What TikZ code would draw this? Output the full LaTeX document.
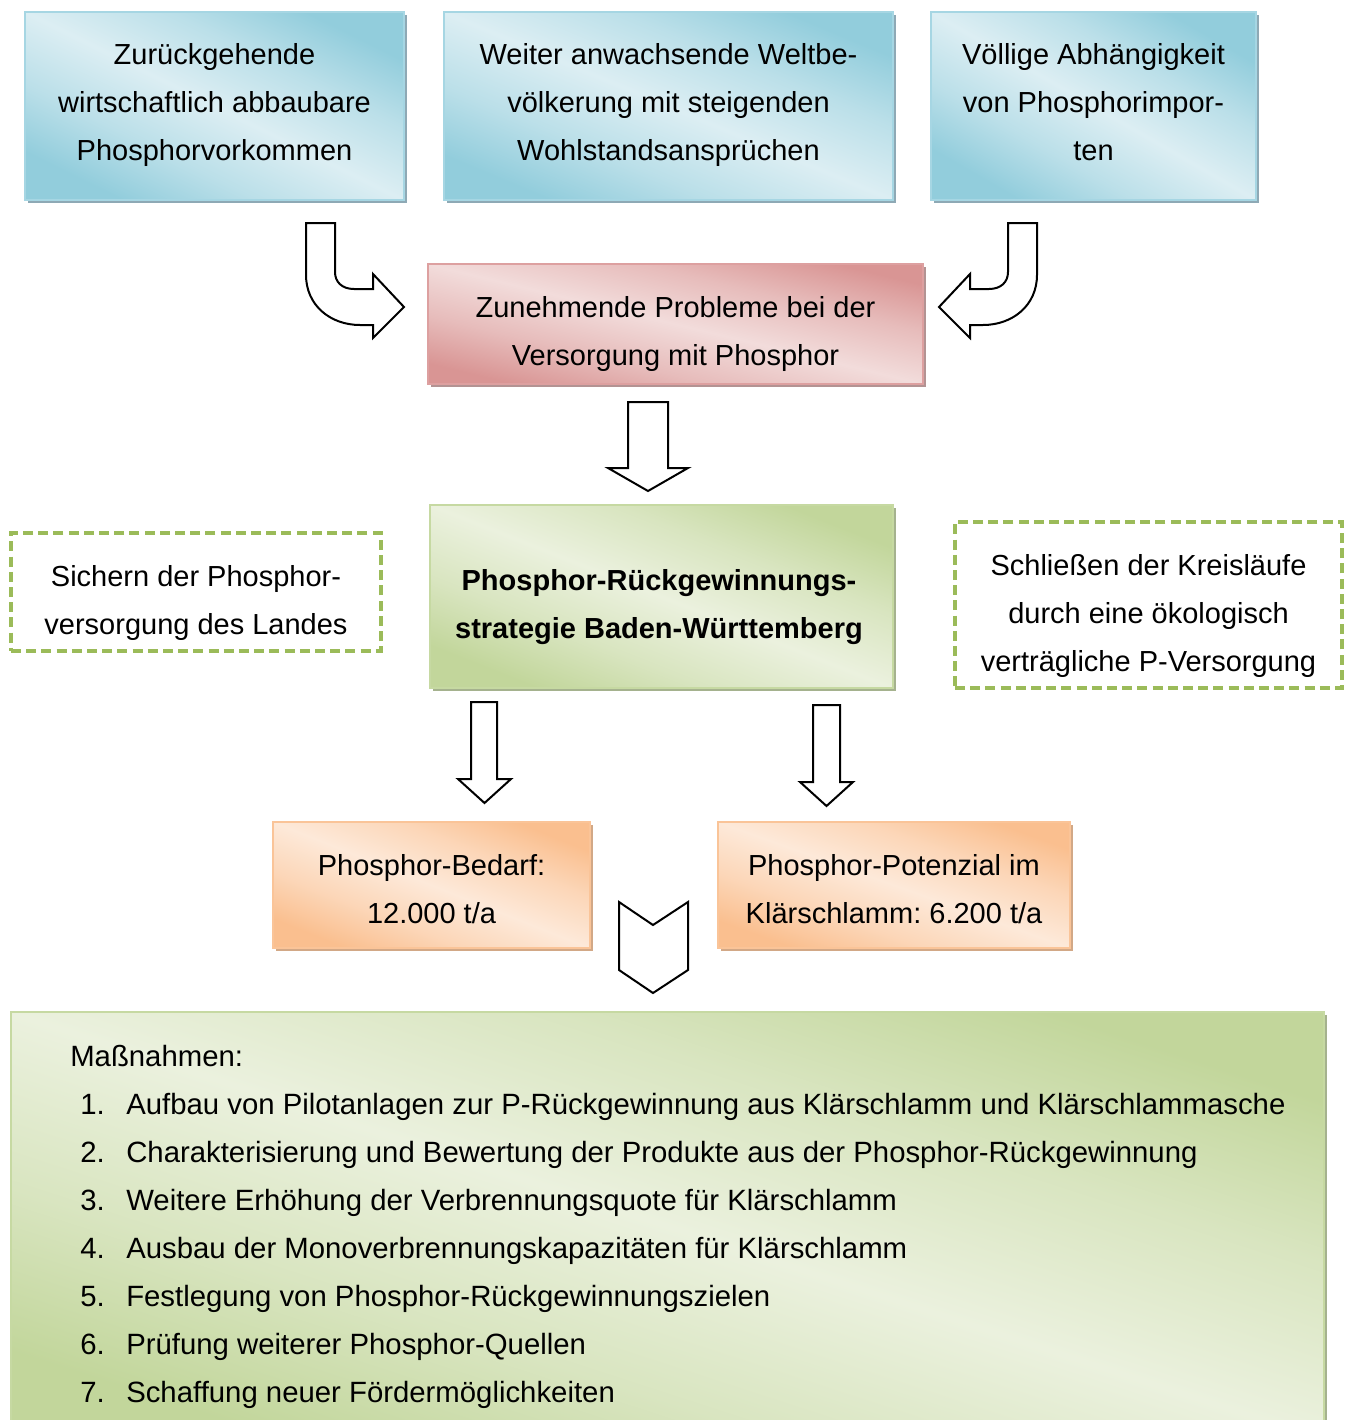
\documentclass[tikz,border=0pt]{standalone}
\usepackage{fontspec}
\setmainfont{Liberation Sans}
\usetikzlibrary{shadows}
\frenchspacing
\definecolor{bluD}{HTML}{92CDDC}
\definecolor{bluL}{HTML}{DCEEF3}
\definecolor{bluS}{HTML}{8EA9B5}
\definecolor{bluE}{HTML}{A6D6E3}
\definecolor{redD}{HTML}{D99594}
\definecolor{redL}{HTML}{F2DCDB}
\definecolor{redS}{HTML}{B39393}
\definecolor{redE}{HTML}{DDA0A0}
\definecolor{grnD}{HTML}{C2D69B}
\definecolor{grnL}{HTML}{EBF1DE}
\definecolor{grnS}{HTML}{A5B28E}
\definecolor{grnE}{HTML}{C6D9A2}
\definecolor{grnB}{HTML}{9BBB59}
\definecolor{orgD}{HTML}{FABF8F}
\definecolor{orgL}{HTML}{FDE9D9}
\definecolor{orgS}{HTML}{D2A886}
\definecolor{orgE}{HTML}{FAC498}
\colorlet{bluM}{bluL!55!bluD}
\colorlet{redM}{redL!55!redD}
\colorlet{grnM}{grnL!55!grnD}
\colorlet{orgM}{orgL!55!orgD}
\pgfdeclarehorizontalshading{shBlue}{100bp}{color(0bp)=(bluD); color(25bp)=(bluD); color(37bp)=(bluM); color(50bp)=(bluL); color(63bp)=(bluM); color(75bp)=(bluD); color(100bp)=(bluD)}
\pgfdeclarehorizontalshading{shRed}{100bp}{color(0bp)=(redD); color(25bp)=(redD); color(37bp)=(redM); color(50bp)=(redL); color(63bp)=(redM); color(75bp)=(redD); color(100bp)=(redD)}
\pgfdeclarehorizontalshading{shGreen}{100bp}{color(0bp)=(grnD); color(25bp)=(grnD); color(37bp)=(grnM); color(50bp)=(grnL); color(63bp)=(grnM); color(75bp)=(grnD); color(100bp)=(grnD)}
\pgfdeclarehorizontalshading{shOrange}{100bp}{color(0bp)=(orgD); color(25bp)=(orgD); color(37bp)=(orgM); color(50bp)=(orgL); color(63bp)=(orgM); color(75bp)=(orgD); color(100bp)=(orgD)}
\newlength\pxl
\setlength\pxl{0.75pt}
\tikzset{
  bx/.style n args={3}{shade, shading=#1, draw=#2, line width=1pt,
     general shadow={fill=#3, shadow xshift=2.6pt, shadow yshift=-2.6pt},
     inner sep=0pt, outer sep=0pt},
  sz/.style 2 args={minimum width={#1*0.75pt}, minimum height={#2*0.75pt}},
  txt/.style={font=\fontsize{21.75pt}{36pt}\selectfont, align=center, inner sep=0pt},
  dbox/.style={draw=grnB, line width=2.4pt, dash pattern=on 7.5pt off 3.9pt, inner sep=0pt},
  blk/.style={draw=black, line width=1.5pt, fill=white, line join=miter},
}
\begin{document}
\begin{tikzpicture}[x=0.75pt,y=-0.75pt]
\useasboundingbox (0,0) rectangle (1349,1420);
\clip (0,0) rectangle (1349,1420);
\fill[white] (0,0) rectangle (1349,1420);

% top blue boxes
\node[bx={shBlue}{bluE}{bluS}, shading angle=63.6, sz={379}{188}] (b1) at (214.5,106) {};
\node[txt] (t1) at (214.5,105) {Zurückgehende\\wirtschaftlich abbaubare\\Phosphorvorkommen};
\node[bx={shBlue}{bluE}{bluS}, shading angle=67.3, sz={449}{188}] (b2) at (668.5,106) {};
\node[txt] (t2) at (668.5,105) {Weiter anwachsende Weltbe-\\völkerung mit steigenden\\Wohlstandsansprüchen};
\node[bx={shBlue}{bluE}{bluS}, shading angle=60, sz={325}{188}] (b3) at (1093.5,106) {};
\node[txt] (t3) at (1093.5,102) {Völlige Abhängigkeit\\von Phosphorimpor-\\ten};

% red box
\node[bx={shRed}{redE}{redS}, shading angle=76.4, sz={495}{120}] (r1) at (675.5,324) {};
\node[txt] (tr) at (675.5,334) {Zunehmende Probleme bei der\\Versorgung mit Phosphor};

% curved arrows
\draw[blk] (306,223) -- (335,223) -- (335,272) .. controls (335,282) and (342,289) .. (354,289) -- (373,289) -- (373,274) -- (404,307) -- (373,338) -- (373,325) -- (360,325) .. controls (330,325) and (306,305) .. (306,275) -- cycle;
\draw[blk] (1037,223) -- (1008,223) -- (1008,272) .. controls (1008,282) and (1001,289) .. (989,289) -- (970,289) -- (970,274) -- (939,307) -- (970,338) -- (970,325) -- (983,325) .. controls (1013,325) and (1037,305) .. (1037,275) -- cycle;

% down arrow
\draw[blk] (628,402) -- (668,402) -- (668,468) -- (688,468) -- (648,491) -- (608,468) -- (628,468) -- cycle;

% green main box
\node[bx={shGreen}{grnE}{grnS}, shading angle=68.4, sz={463}{183}] (g1) at (661.5,596.5) {};
\node[txt, font=\fontsize{21.75pt}{36pt}\selectfont\bfseries] (tg) at (659,607) {Phosphor-Rückgewinnungs-\\strategie Baden-Württemberg};

% dashed boxes
\node[dbox, sz={370}{118}] (d1) at (196,592) {};
\node[txt] (td1) at (196,603) {Sichern der Phosphor-\\versorgung des Landes};
\node[dbox, sz={387}{166}] (d2) at (1148.5,605) {};
\node[txt] (td2) at (1148.5,616) {Schließen der Kreisläufe\\durch eine ökologisch\\verträgliche P-Versorgung};

% down arrows 2 and 3
\draw[blk] (471,702) -- (497,702) -- (497,779) -- (511,779) -- (484.5,803) -- (458,779) -- (471,779) -- cycle;
\draw[blk] (813,705) -- (840,705) -- (840,782) -- (853,782) -- (826.5,806) -- (800,782) -- (813,782) -- cycle;

% orange boxes
\node[bx={shOrange}{orgE}{orgS}, shading angle=68.3, sz={317}{126}] (o1) at (431.5,885) {};
\node[txt] (to1) at (431.5,889) {Phosphor-Bedarf:\\12.000 t/a};
\node[bx={shOrange}{orgE}{orgS}, shading angle=70.3, sz={352}{126}] (o2) at (894,885) {};
\node[txt] (to2) at (894,889) {Phosphor-Potenzial im\\Klärschlamm: 6.200 t/a};

% chevron
\draw[blk] (619,902) -- (653,925) -- (688,902) -- (688,970) -- (653,993) -- (619,970) -- cycle;

% bottom box
\node[bx={shGreen}{grnE}{grnS}, shading angle=72, sz={1313}{428}] (g2) at (667.5,1226) {};
\node[txt, font=\fontsize{22pt}{36pt}\selectfont, align=left, anchor=north west] (list) at (70,1045) {Maßnahmen:\\
\hspace*{10\pxl}\makebox[46\pxl][l]{1.}Aufbau von Pilotanlagen zur P-Rückgewinnung aus Klärschlamm und Klärschlammasche\\
\hspace*{10\pxl}\makebox[46\pxl][l]{2.}Charakterisierung und Bewertung der Produkte aus der Phosphor-Rückgewinnung\\
\hspace*{10\pxl}\makebox[46\pxl][l]{3.}Weitere Erhöhung der Verbrennungsquote für Klärschlamm\\
\hspace*{10\pxl}\makebox[46\pxl][l]{4.}Ausbau der Monoverbrennungskapazitäten für Klärschlamm\\
\hspace*{10\pxl}\makebox[46\pxl][l]{5.}Festlegung von Phosphor-Rückgewinnungszielen\\
\hspace*{10\pxl}\makebox[46\pxl][l]{6.}Prüfung weiterer Phosphor-Quellen\\
\hspace*{10\pxl}\makebox[46\pxl][l]{7.}Schaffung neuer Fördermöglichkeiten};
\end{tikzpicture}
\end{document}
